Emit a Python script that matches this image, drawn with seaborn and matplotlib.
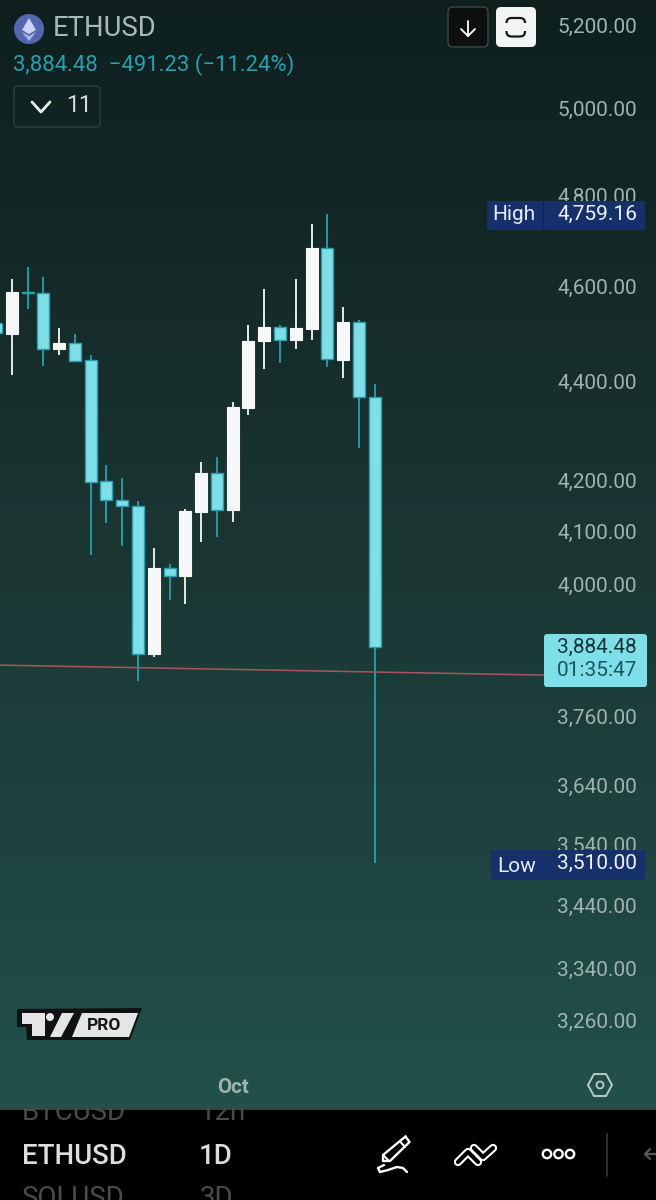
"""
ETHUSD daily candles, phone screenshot style.
"""

import numpy as np
import pandas as pd
import matplotlib
matplotlib.use("Agg")
import matplotlib.pyplot as plt
from matplotlib.patches import Circle, FancyBboxPatch, Polygon, Rectangle
import seaborn as sns

# ── data ──────────────────────────────────────────────
candle = list(range(25))
opens = [4521, 4498, 4588, 4586, 4467, 4479, 4444, 4198, 4161, 4149, 3871, 4030, 4015,
         4138, 4214, 4142, 4345, 4483, 4513, 4485, 4509, 4683, 4444, 4524, 4367]
closes = [4500, 4588, 4585, 4467, 4479, 4441, 4196, 4161, 4149, 3871, 4030, 4015, 4140,
          4214, 4142, 4347, 4483, 4513, 4485, 4511, 4683, 4446, 4524, 4367, 3884.48]
highs = [4521, 4616, 4642, 4620, 4511, 4498, 4454, 4230, 4204, 4159, 4068, 4038, 4144,
         4236, 4246, 4357, 4517, 4594, 4517, 4616, 4736, 4759.16, 4555, 4528, 4394]
lows = [4500, 4412, 4551, 4431, 4454, 4441, 4055, 4116, 4072, 3822, 3865, 3970, 3963,
        4080, 4089, 4118, 4330, 4425, 4437, 4467, 4485, 4429, 4406, 4264, 3510]

price_ticks = [5200, 5000, 4800, 4600, 4400, 4200, 4100, 4000, 3760, 3640, 3540, 3440, 3340, 3260]
price_labels = ["5,200.00", "5,000.00", "4,800.00", "4,600.00", "4,400.00", "4,200.00", "4,100.00",
                "4,000.00", "3,760.00", "3,640.00", "3,540.00", "3,440.00", "3,340.00", "3,260.00"]
month_ticks = [15]
month_labels = ["Oct"]

trend_x = [0.25, 34.8]
trend_y = [3851, 3833]

# ── colours ───────────────────────────────────────────
UP = "#f6f8f7"
DOWN_FILL = "#7fdfe8"
DOWN_EDGE = "#2c9fae"
TICK = "#9fb4af"
PILL = "#16306c"

sns.set_theme(style="dark", rc={"axes.facecolor": "none", "figure.facecolor": "black"})
plt.rcParams["font.family"] = ["Roboto", "DejaVu Sans"]

fig = plt.figure(figsize=(6.56, 12), dpi=100)

# ── background gradient ───────────────────────────────
bg = fig.add_axes([0, 92 / 1200, 1, 1108 / 1200], zorder=0)
grad = sns.blend_palette(["#0e1f1e", "#1a3633", "#22504b"], as_cmap=True)
bg.imshow(np.linspace(0, 1, 256).reshape(-1, 1), aspect="auto", cmap=grad)
bg.axis("off")

# ── candles ───────────────────────────────────────────
df = pd.DataFrame({"candle": candle, "open": opens, "close": closes, "high": highs, "low": lows})
df["bottom"] = df[["open", "close"]].min(axis=1)
df["body"] = (df["close"] - df["open"]).abs()
up = df[df["close"] > df["open"]]
down = df[df["close"] <= df["open"]]

ax = fig.add_axes([0, 92 / 1200, 1, 1108 / 1200], zorder=1)
ax.set_yscale("log")

ax.vlines(up["candle"], up["low"], up["high"], colors=UP, linewidth=1.3, zorder=1)
ax.vlines(down["candle"], down["low"], down["high"], colors=DOWN_EDGE, linewidth=1.3, zorder=1)
sns.barplot(data=up, x="candle", y="body", bottom=up["bottom"], native_scale=True, width=0.76,
            color=UP, saturation=1, edgecolor=UP, linewidth=0.8, errorbar=None, zorder=2, ax=ax)
sns.barplot(data=down, x="candle", y="body", bottom=down["bottom"], native_scale=True, width=0.76,
            color=DOWN_FILL, saturation=1, edgecolor=DOWN_EDGE, linewidth=1.0, errorbar=None, zorder=2, ax=ax)
sns.lineplot(x=trend_x, y=trend_y, color="#a8545e", linewidth=1.1, estimator=None, zorder=3, ax=ax)

ax.set_xlim(0.2535, 41.825)
ax.set_ylim(3128.5, 5261.4)
ax.set_xlabel("")
ax.set_ylabel("")
ax.grid(False)
sns.despine(ax=ax, left=True, bottom=True)
ax.minorticks_off()
ax.yaxis.tick_right()
ax.set_yticks(price_ticks, price_labels)
ax.tick_params(axis="y", which="both", length=0, pad=-13.7, labelsize=15, labelcolor=TICK)
for lab in ax.get_yticklabels():
    lab.set_ha("right")
ax.set_xticks(month_ticks, month_labels)
ax.tick_params(axis="x", length=0, pad=-21.6, labelsize=14.8, labelcolor=TICK)
for lab in ax.get_xticklabels():
    lab.set_fontweight("bold")

# ── overlay in pixel coordinates ──────────────────────
ui = fig.add_axes([0, 0, 1, 1], zorder=2)
ui.set_xlim(0, 656)
ui.set_ylim(1200, 0)
ui.axis("off")


def rbox(x0, y0, x1, y1, face, edge="none", lw=1.0, r=4, z=3):
    ui.add_patch(FancyBboxPatch((x0, y0), x1 - x0, y1 - y0, boxstyle=f"round,pad=0,rounding_size={r}",
                                facecolor=face, edgecolor=edge, linewidth=lw, zorder=z))


def stroke(xs, ys, color="white", lw=1.8, z=5):
    ui.plot(xs, ys, color=color, linewidth=lw, solid_capstyle="round", solid_joinstyle="round", zorder=z)


# header
ui.add_patch(Circle((29, 29), 15, facecolor="#5566b0", edgecolor="none", zorder=3))
ui.add_patch(Polygon([(29, 18), (36, 30), (29, 34), (22, 30)], facecolor="#c9d3f2", edgecolor="none", zorder=4))
ui.add_patch(Polygon([(22, 32), (29, 36), (36, 32), (29, 41)], facecolor="#aab8e8", edgecolor="none", zorder=4))
ui.text(53, 29, "ETHUSD", color="#a9b8b4", fontsize=19.8, va="center", ha="left", zorder=5)
ui.text(13, 65, "3,884.48  \u2212491.23 (\u221211.24%)", color="#2a9fae", fontsize=15.9,
        va="center", ha="left", zorder=5)
rbox(14, 86, 100, 127, "none", "#2e4240", 1.0)
stroke([32, 41, 50], [102, 112, 102], "#e8eeec", 2.0)
ui.text(66, 106, "11", color="#d5dedb", fontsize=16.5, va="center", ha="left", zorder=5)

rbox(448, 7, 488, 47, "#0e0f0f", "#3a4a48", 1.0, r=5)
stroke([468, 468], [21, 36], "white", 1.3)
stroke([461, 468, 475], [29, 36, 29], "white", 1.3)
rbox(496, 7, 536, 47, "#f3f5f4", r=5)
rbox(506.5, 18, 525, 36.5, "none", "#151a1a", 1.6, r=5, z=4)
ui.add_patch(Rectangle((502, 23), 28, 8, facecolor="#f3f5f4", edgecolor="none", zorder=5))

# high / low / last price tags
rbox(487, 201, 645, 230, PILL, r=2)
stroke([543, 543], [201, 230], "#10244f", 1.0)
ui.text(514, 215, "High", color="#e6eef5", fontsize=15, va="center", ha="center", zorder=5)
ui.text(637, 214, "4,759.16", color="#eef3f7", fontsize=15, va="center", ha="right", zorder=5)
rbox(491, 850, 645, 880, PILL, r=2)
ui.text(517, 866, "Low", color="#e6eef5", fontsize=15, va="center", ha="center", zorder=5)
ui.text(637, 863, "3,510.00", color="#eef3f7", fontsize=15, va="center", ha="right", zorder=5)
rbox(544, 634, 647, 687, DOWN_FILL, r=3)
ui.text(637, 647, "3,884.48", color="#14353a", fontsize=15, va="center", ha="right", zorder=5)
ui.text(637, 670, "01:35:47", color="#1c5560", fontsize=15, va="center", ha="right", zorder=5)

# tradingview badge
ui.add_patch(Polygon([(17, 1009), (142, 1008), (130, 1040), (27, 1040), (26, 1027), (17, 1027)],
                     facecolor="#101212", edgecolor="none", zorder=3))
badge = "#e4e6e5"
ui.add_patch(Polygon([(22, 1013), (45, 1013), (45, 1036), (32, 1036), (32, 1024), (22, 1024)],
                     facecolor=badge, edgecolor="none", zorder=4))
ui.add_patch(Circle((50, 1017), 4, facecolor=badge, edgecolor="none", zorder=4))
ui.add_patch(Polygon([(62, 1013), (74, 1013), (61, 1037), (50, 1037)], facecolor=badge, edgecolor="none", zorder=4))
ui.add_patch(Polygon([(82, 1013), (138, 1013), (129, 1037), (72, 1037)], facecolor=badge, edgecolor="none", zorder=4))
ui.text(104, 1025, "PRO", color="#141616", fontsize=12.5, fontweight="bold", va="center", ha="center", zorder=5)

# settings hexagon
hex_x = [588, 594, 606, 612, 606, 594, 588]
hex_y = [1085, 1074, 1074, 1085, 1096, 1096, 1085]
stroke(hex_x, hex_y, "#b9cbc7", 1.4)
ui.add_patch(Circle((600, 1085), 3.5, facecolor="none", edgecolor="#b9cbc7", linewidth=1.3, zorder=5))

# ── bottom bar ────────────────────────────────────────
panel = fig.add_axes([0, 0, 1, 92 / 1200], zorder=3, facecolor="black")
panel.set_xlim(0, 656)
panel.set_ylim(1200, 1108)
panel.set_xticks([])
panel.set_yticks([])
sns.despine(ax=panel, left=True, bottom=True, top=True, right=True)
panel.axhline(1109, color="#3c3f3e", linewidth=1.5)

panel.text(22, 1113, "BTCUSD", color="#4a4c4b", fontsize=19.9, va="center", ha="left", clip_on=True)
panel.text(200, 1113, "12h", color="#4a4c4b", fontsize=19.9, va="center", ha="left", clip_on=True)
panel.text(22, 1156, "ETHUSD", color="#dcdedd", fontsize=19.9, va="center", ha="left", fontweight="medium")
panel.text(199, 1156, "1D", color="#dcdedd", fontsize=19.9, va="center", ha="left", fontweight="medium")
panel.text(22, 1198, "SOLUSD", color="#4a4c4b", fontsize=19.9, va="center", ha="left", clip_on=True)
panel.text(200, 1198, "3D", color="#4a4c4b", fontsize=19.9, va="center", ha="left", clip_on=True)

ui.set_zorder(4)
# pen
stroke([405.5, 409.5, 390, 383, 383, 405.5], [1136.5, 1142, 1161, 1161, 1155, 1136.5], "white", 1.7)
stroke([400, 405], [1141.5, 1147], "white", 1.5)
stroke([383, 389], [1155, 1161], "white", 1.5)
stroke([384, 378, 380, 388, 397, 403, 407], [1165, 1168, 1172, 1170, 1167, 1168, 1172], "white", 1.7)
# double chevron, outlined stroke
for xs, ys in [([458, 468, 478], [1162, 1152, 1162]), ([474, 483, 493], [1148, 1157, 1148])]:
    stroke(xs, ys, "white", 6.0, z=5)
    stroke(xs, ys, "black", 3.0, z=6)
# dots
for cx in [547, 558.5, 570]:
    ui.add_patch(Circle((cx, 1154), 4.2, facecolor="none", edgecolor="white", linewidth=1.7, zorder=5))
stroke([607, 607], [1134, 1176], "#333534", 1.3)
stroke([656, 645], [1154, 1154], "#555756", 1.6)
stroke([650, 645, 650], [1149, 1154, 1159], "#555756", 1.6)

fig.savefig("out.png", dpi=100)
plt.close(fig)
